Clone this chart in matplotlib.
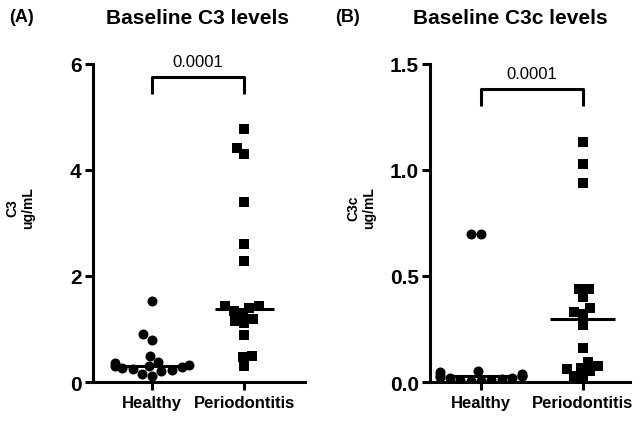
import numpy as np
import pandas as pd
import matplotlib.pyplot as plt
import seaborn as sns

groups = ['Healthy', 'Periodontitis']

# C3 (ug/mL)
c3_healthy = [1.52, 0.90, 0.80, 0.50, 0.38, 0.36, 0.33, 0.31, 0.30, 0.28,
              0.27, 0.25, 0.22, 0.20, 0.15, 0.12]
c3_perio = [4.77, 4.42, 4.30, 3.40, 2.60, 2.28, 1.43, 1.43, 1.40, 1.34,
            1.28, 1.19, 1.15, 1.11, 0.89, 0.49, 0.47, 0.30]

# C3c (ug/mL)
c3c_healthy = [0.70, 0.70, 0.05, 0.045, 0.04, 0.035, 0.03, 0.03, 0.025, 0.02,
               0.02, 0.015, 0.01, 0.01, 0.005, 0.005]
c3c_perio = [1.13, 1.03, 0.94, 0.44, 0.44, 0.40, 0.35, 0.33, 0.32, 0.27,
             0.16, 0.095, 0.075, 0.065, 0.06, 0.05, 0.03, 0.02]

p_text = '0.0001'

plt.rcParams['font.family'] = ['Liberation Sans', 'DejaVu Sans']

fig = plt.figure(figsize=(6.4, 4.27), dpi=100)
ax1 = fig.add_axes([0.145, 0.103, 0.332, 0.745])
ax2 = fig.add_axes([0.672, 0.103, 0.312, 0.745])


def panel(ax, healthy, perio, ymax, yticks, ylabel, bracket, xlim):
    df = pd.DataFrame({
        'group': ['Healthy'] * len(healthy) + ['Periodontitis'] * len(perio),
        'value': healthy + perio,
    })
    sns.swarmplot(data=df[df.group == 'Healthy'], x='group', y='value', order=groups,
                  marker='o', color='black', size=7.2, ax=ax)
    sns.swarmplot(data=df[df.group == 'Periodontitis'], x='group', y='value', order=groups,
                  marker='s', color='black', size=6.6, ax=ax)
    for i, vals in enumerate([healthy, perio]):
        ax.hlines(np.median(vals), i - 0.32, i + 0.32, color='black', lw=2.2, zorder=5)

    ax.set_xlim(*xlim)
    ax.set_ylim(0, ymax)
    ax.set_yticks(yticks)
    ax.set_xlabel('')
    ax.set_ylabel(ylabel, fontsize=10, fontweight='bold')
    ax.yaxis.set_label_coords(-0.27, 0.55)
    for s in ['top', 'right']:
        ax.spines[s].set_visible(False)
    for s in ['left', 'bottom']:
        ax.spines[s].set_linewidth(2.2)
    ax.tick_params(width=2.2, length=6)
    ax.tick_params(axis='y', labelsize=15, pad=2)
    ax.tick_params(axis='x', labelsize=12)

    top, bottom = bracket
    ax.plot([0, 0, 1, 1], [bottom, top, top, bottom], color='black', lw=2.2,
            clip_on=False, solid_capstyle='butt')
    ax.text(0.5, top + ymax * 0.025, p_text, ha='center', va='bottom', fontsize=12)
    return ax


panel(ax1, c3_healthy, c3_perio, 6, [0, 2, 4, 6], 'C3\nug/mL',
      (5.75, 5.43), (-0.64, 1.66))
panel(ax2, c3c_healthy, c3c_perio, 1.5, [0.0, 0.5, 1.0, 1.5], 'C3c\nug/mL',
      (1.38, 1.30), (-0.5, 1.46))
ax2.set_yticklabels(['0.0', '0.5', '1.0', '1.5'])
for ax in (ax1, ax2):
    for lab in ax.get_xticklabels() + ax.get_yticklabels():
        lab.set_fontweight('bold')

fig.text(198 / 640, 1 - 18 / 427, 'Baseline C3 levels', fontsize=15, fontweight='bold',
         ha='center', va='center')
fig.text(510 / 640, 1 - 18 / 427, 'Baseline C3c levels', fontsize=15, fontweight='bold',
         ha='center', va='center')
fig.text(0.014, 1 - 18 / 427, '(A)', fontsize=13, fontweight='bold', va='center')
fig.text(0.523, 1 - 18 / 427, '(B)', fontsize=13, fontweight='bold', va='center')

fig.savefig('out.png', dpi=100)
